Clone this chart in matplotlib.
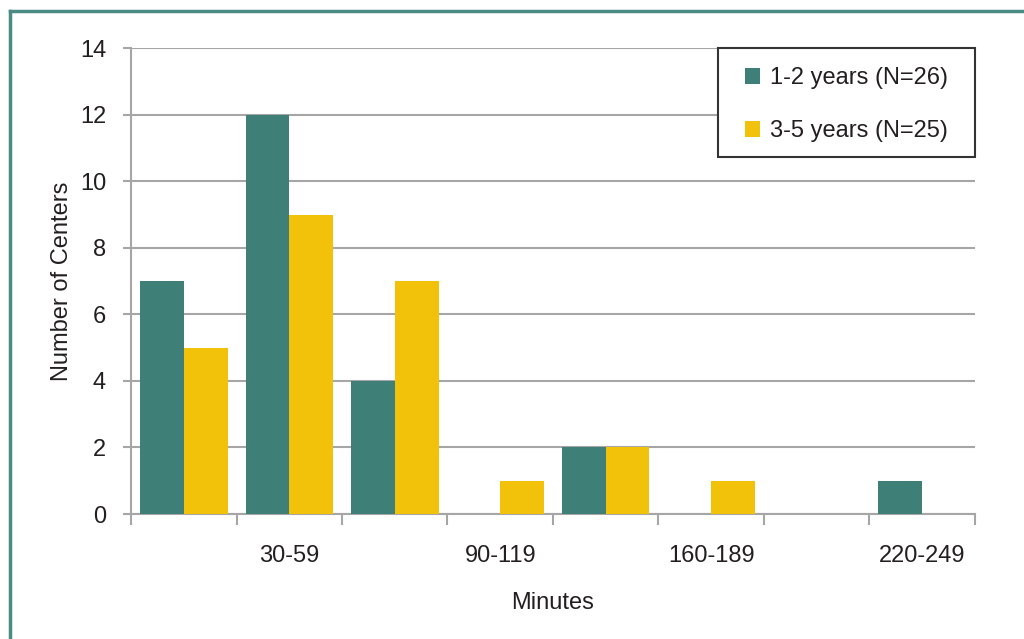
import matplotlib.pyplot as plt
import numpy as np
from matplotlib.patches import Patch, Rectangle
from matplotlib.lines import Line2D

plt.rcParams['font.family'] = ['Liberation Sans', 'DejaVu Sans']

categories = ["0-29", "30-59", "60-89", "90-119", "120-159", "160-189", "190-219", "220-249"]
shown_labels = ["", "30-59", "", "90-119", "", "160-189", "", "220-249"]
years_1_2 = [7, 12, 4, 0, 2, 0, 0, 1]
years_3_5 = [5, 9, 7, 1, 2, 1, 0, 0]

teal = "#3e7f78"
gold = "#f2c10a"
grey = "#a6a6a6"
text_col = "#231f20"

fig = plt.figure(figsize=(10.24, 6.39), dpi=100)
ax = fig.add_axes([0.128, 0.1956, 0.824, 0.729])

x = np.arange(len(categories))
w = 0.415
ax.bar(x - w / 2, years_1_2, width=w, color=teal, zorder=3)
ax.bar(x + w / 2, years_3_5, width=w, color=gold, zorder=3)

ax.set_xlim(-0.5, len(categories) - 0.5)
ax.set_ylim(0, 14)
ax.set_yticks(range(0, 15, 2))
ax.yaxis.grid(True, color=grey, linewidth=1.5, zorder=0)

# boundary ticks without labels, category labels on minor ticks
ax.set_xticks(np.arange(len(categories) + 1) - 0.5)
ax.set_xticklabels([])
ax.set_xticks(x, minor=True)
ax.set_xticklabels(shown_labels, minor=True)
ax.tick_params(axis='x', which='major', length=8, width=1.5, color=grey)
ax.tick_params(axis='x', which='minor', length=0, pad=22, labelsize=17, labelcolor=text_col)
ax.tick_params(axis='y', length=6, width=1.5, color=grey, pad=12, labelsize=17, labelcolor=text_col)

for s in ['top', 'right']:
    ax.spines[s].set_visible(False)
for s in ['left', 'bottom']:
    ax.spines[s].set_color(grey)
    ax.spines[s].set_linewidth(1.5)

ax.set_xlabel("Minutes", fontsize=17, color=text_col, labelpad=18)
ax.set_ylabel("Number of Centers", fontsize=17, color=text_col, labelpad=5)

# legend box drawn separately so the padding can be wider than it is tall
box = Rectangle((0.6955, 0.766), 0.3045, 0.234, transform=ax.transAxes,
                facecolor="white", edgecolor="#333333", linewidth=1.5,
                zorder=4, clip_on=False)
ax.add_patch(box)

handles = [Patch(facecolor=teal), Patch(facecolor=gold)]
leg = ax.legend(handles, ["1-2 years (N=26)", "3-5 years (N=25)"],
                loc='upper left', bbox_to_anchor=(0.7275, 0.959), borderaxespad=0,
                borderpad=0, frameon=False, fontsize=17,
                handlelength=0.65, handleheight=0.65, handletextpad=0.4,
                labelspacing=1.3, labelcolor=text_col)
leg.set_zorder(5)

# teal frame along top and left edges
fig.add_artist(Line2D([0.0095, 1.0], [0.983, 0.983], color="#4a8c84", linewidth=2.5))
fig.add_artist(Line2D([0.0095, 0.0095], [0.0, 0.983], color="#4a8c84", linewidth=2.5))

fig.savefig("out.png", dpi=100)
